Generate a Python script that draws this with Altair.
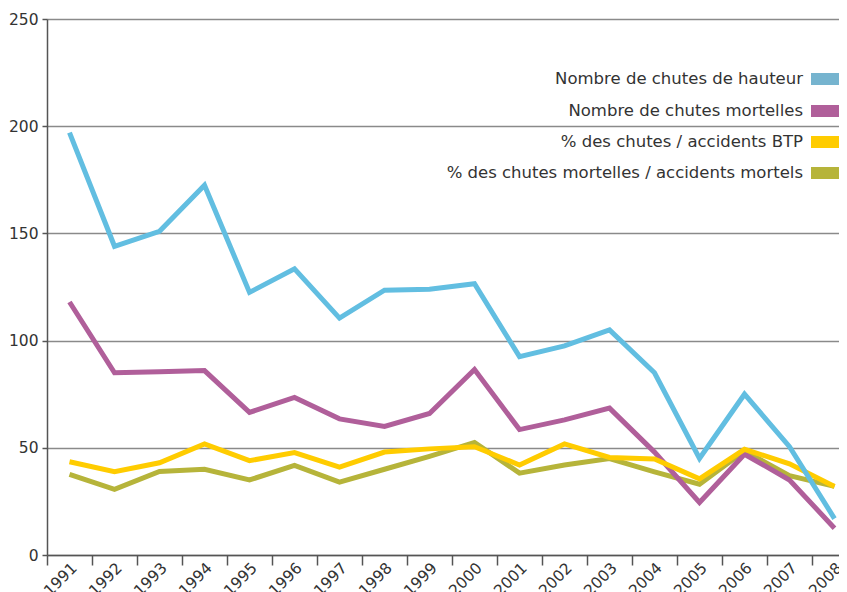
import altair as alt
import pandas as pd

years = list(range(1991, 2009))
series_names = [
    "Nombre de chutes de hauteur",
    "Nombre de chutes mortelles",
    "% des chutes / accidents BTP",
    "% des chutes mortelles / accidents mortels",
]
hauteur = [197, 144, 151, 172.5, 122.5, 133.5, 110.5, 123.5, 124, 126.5, 92.5, 97.5, 105, 85, 45, 75, 50.5, 17]
mortelles = [118, 85, 85.5, 86, 66.5, 73.5, 63.5, 60, 66, 86.5, 58.5, 63, 68.5, 48, 24.5, 47, 35, 12.5]
pct_btp = [43.5, 38.8, 43, 51.8, 44, 47.8, 41, 48, 49.5, 50.5, 42, 51.8, 45.5, 44.8, 35.5, 49.3, 42.5, 32]
pct_mort = [37.6, 30.6, 39, 40, 35, 41.8, 34, 40, 46, 52.5, 38.2, 42, 45, 38.8, 33, 48.5, 37, 32]
line_colors = ["#62bee1", "#b05f9a", "#ffcc00", "#b6b43a"]
swatch_colors = ["#76b4cf", "#b05f9a", "#ffcc00", "#b6b43a"]
y_ticks = [0, 50, 100, 150, 200, 250]

values = [hauteur, mortelles, pct_btp, pct_mort]
rows = []
for name, vals in zip(series_names, values):
    for yr, v in zip(years, vals):
        rows.append({"year": yr, "value": v, "series": name})
df = pd.DataFrame(rows)

W, H = 792, 536
FONT = "DejaVu Sans"
FS = 15.5
LFS = 16.5

x_enc = alt.X(
    "year:Q",
    scale=alt.Scale(domain=[1990.5, 1990.5 + W / 45.0], nice=False, zero=False),
    axis=alt.Axis(
        values=[y - 0.5 for y in years],
        labelExpr="toString(round(datum.value + 0.5))",
        labelAngle=-45,
        labelAlign="right",
        labelBaseline="middle",
        labelOffset=27,
        labelPadding=0,
        labelFlush=False,
        labelOverlap=False,
        labelFontSize=FS,
        labelColor="#333333",
        labelFont=FONT,
        tickSize=10,
        tickColor="#555555",
        tickWidth=1.5,
        domainColor="#555555",
        domainWidth=1.5,
        grid=False,
        title=None,
    ),
)
y_enc = alt.Y(
    "value:Q",
    scale=alt.Scale(domain=[0, 250], nice=False),
    axis=alt.Axis(
        values=y_ticks,
        labelFontSize=FS,
        labelColor="#333333",
        labelFont=FONT,
        labelPadding=4,
        tickSize=5,
        tickColor="#555555",
        tickWidth=1.5,
        domainColor="#555555",
        domainWidth=1.5,
        grid=True,
        gridColor="#8a8a8a",
        gridWidth=1.5,
        title=None,
    ),
)

layers = []
draw_order = [3, 1, 2, 0]
for i in draw_order:
    sub = df[df["series"] == series_names[i]]
    layers.append(
        alt.Chart(sub)
        .mark_line(color=line_colors[i], strokeWidth=5, strokeJoin="miter", strokeCap="butt", clip=True)
        .encode(x=x_enc, y=y_enc)
    )

# legend (label on the left, swatch on the right)
legend_rows_y = [60, 92, 123, 154]
for name, col, yc in zip(series_names, swatch_colors, legend_rows_y):
    ldf = pd.DataFrame({"label": [name]})
    layers.append(
        alt.Chart(ldf)
        .mark_text(align="right", baseline="middle", fontSize=LFS, font=FONT, color="#333333")
        .encode(text="label:N", x=alt.value(756), y=alt.value(yc))
    )
    layers.append(
        alt.Chart(ldf)
        .mark_rect(color=col)
        .encode(x=alt.value(764), x2=alt.value(W + 10), y=alt.value(yc - 6), y2=alt.value(yc + 6))
    )

chart = (
    alt.layer(*layers)
    .properties(
        width=W,
        height=H,
        autosize=alt.AutoSizeParams(type="none"),
        padding={"left": 39, "top": 11, "right": 0, "bottom": 37},
    )
    .configure_view(stroke=None)
    .configure(background="white")
)

chart.save("out.html", embed_options={"renderer": "svg", "actions": False})
